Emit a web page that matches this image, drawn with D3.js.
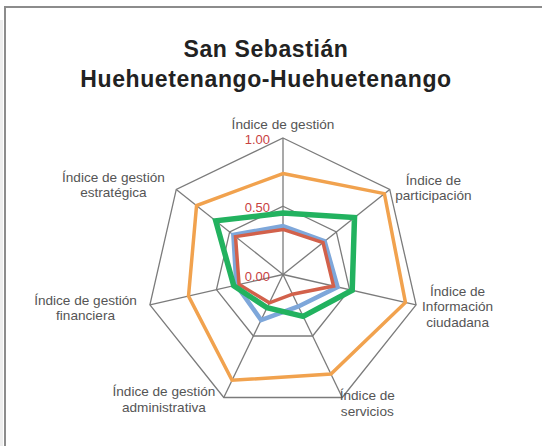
<!DOCTYPE html>
<html>
<head>
<meta charset="utf-8">
<script src="https://cdn.jsdelivr.net/npm/d3@7"></script>
<style>
  body { margin: 0; background: #fff; }
  svg { display: block; font-family: "Liberation Sans", Arial, sans-serif; }
</style>
</head>
<body>
<svg id="chart"></svg>
<script>
// Data
const titleLines = ["San Sebastián", "Huehuetenango-Huehuetenango"];
const axes = [
  ["Índice de gestión"],
  ["Índice de", "participación"],
  ["Índice de", "Información", "ciudadana"],
  ["Índice de", "servicios"],
  ["Índice de gestión", "administrativa"],
  ["Índice de gestión", "financiera"],
  ["Índice de gestión", "estratégica"]
];
const ticks = [0, 0.5, 1];
const blueValues   = [0.355, 0.39, 0.41, 0.26, 0.37, 0.35, 0.465];
const redValues    = [0.33, 0.375, 0.38, 0.16, 0.23, 0.33, 0.445];
const orangeValues = [0.74, 0.95, 0.92, 0.81, 0.86, 0.71, 0.81];
const greenValues  = [0.45, 0.67, 0.52, 0.34, 0.27, 0.37, 0.63];

// Layout
const width = 542, height = 446;
const cx = 283, cy = 274.5, radius = 136.5;

const svg = d3.select("#chart")
  .attr("width", width)
  .attr("height", height);

// frame (only top/left edges visible)
svg.append("rect").attr("x", 0).attr("y", 20).attr("width", 3).attr("height", height)
  .attr("fill", "#eeeeee");
svg.append("path")
  .attr("d", `M5,${height} V7 H${width}`)
  .attr("fill", "none")
  .attr("stroke", "#8c8c8c")
  .attr("stroke-width", 2);

// Title
svg.append("text")
  .attr("x", 266)
  .attr("text-anchor", "middle")
  .attr("font-size", "23px")
  .attr("font-weight", "bold")
  .attr("letter-spacing", "0.6px")
  .attr("fill", "#222")
  .selectAll("tspan")
  .data(titleLines)
  .enter()
  .append("tspan")
  .attr("x", 266)
  .attr("y", (d, i) => 57 + i * 29.5)
  .text(d => d);

const g = svg.append("g").attr("transform", `translate(${cx},${cy})`);

const r = d3.scaleLinear().domain([0, 1]).range([0, radius]);
const angle = d3.scaleLinear().domain([0, axes.length]).range([0, 2 * Math.PI]);

const radialLine = d3.lineRadial()
  .angle((d, i) => angle(i))
  .radius(d => r(d))
  .curve(d3.curveLinearClosed);

const point = (i, v) => [Math.sin(angle(i)) * r(v), -Math.cos(angle(i)) * r(v)];

// Grid rings
g.selectAll(".ring")
  .data(ticks.filter(t => t > 0))
  .enter()
  .append("path")
  .attr("class", "ring")
  .attr("d", t => radialLine(axes.map(() => t)))
  .attr("fill", "none")
  .attr("stroke", "#7b7b7b")
  .attr("stroke-width", 1.3);

// Spokes
g.selectAll(".spoke")
  .data(axes)
  .enter()
  .append("line")
  .attr("class", "spoke")
  .attr("x1", 0).attr("y1", 0)
  .attr("x2", (d, i) => point(i, 1)[0])
  .attr("y2", (d, i) => point(i, 1)[1])
  .attr("stroke", "#7b7b7b")
  .attr("stroke-width", 1.3);

// Series
const series = [
  { values: blueValues,   color: "#7ea7da", w: 4.5 },
  { values: redValues,    color: "#d2614b", w: 3.5 },
  { values: orangeValues, color: "#f1a24e", w: 3.5 },
  { values: greenValues,  color: "#22b25f", w: 5.5 }
];

g.selectAll(".series")
  .data(series)
  .enter()
  .append("path")
  .attr("class", "series")
  .attr("d", s => radialLine(s.values))
  .attr("fill", "none")
  .attr("stroke", s => s.color)
  .attr("stroke-width", s => s.w)
  .attr("stroke-linejoin", "miter");

// Tick labels
g.selectAll(".tick")
  .data(ticks)
  .enter()
  .append("text")
  .attr("class", "tick")
  .attr("x", -13)
  .attr("y", t => -r(t) + 6)
  .attr("text-anchor", "end")
  .attr("font-size", "13px")
  .attr("fill", "#c8423f")
  .text(t => d3.format(".2f")(t));

// Axis labels
const gap = [0, 5.5, 6, -2.5, -8.5, -13, -11.5];
const midShift = [0, -1.5, 2, 6, 2, 3, -4.5];
const lineH = 15.5;

axes.forEach((lines, i) => {
  const [px, py] = point(i, 1);
  const t = g.append("text")
    .attr("font-size", "13.6px")
    .attr("fill", "#555")
    .attr("text-anchor", "middle");
  const spans = t.selectAll("tspan").data(lines).enter().append("tspan").text(d => d);
  const w = d3.max(spans.nodes(), n => n.getComputedTextLength());
  let bx;
  if (i === 0) bx = px;
  else if (px > 0) bx = px + gap[i] + w / 2;
  else bx = px + gap[i] - w / 2;
  let firstBase;
  if (i === 0) firstBase = py - 9;
  else firstBase = py + midShift[i] - (lines.length - 1) * lineH / 2 + 4.5;
  spans.attr("x", bx).attr("y", (d, k) => firstBase + k * lineH);
});
</script>
</body>
</html>
